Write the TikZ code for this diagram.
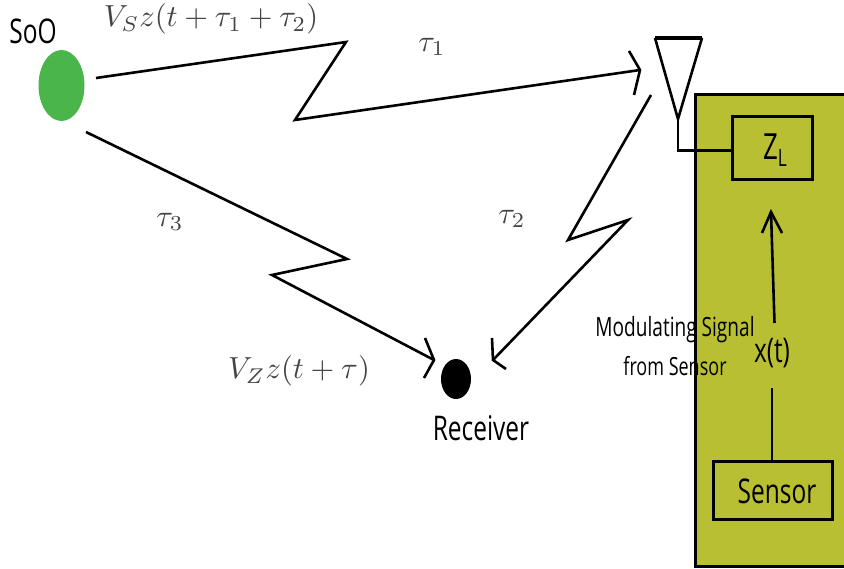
\documentclass[tikz,border=0pt]{standalone}
\usepackage{fontspec}
\usetikzlibrary{shapes.geometric}
\setmainfont{Open Sans}[FakeStretch=0.72]
\definecolor{soo}{HTML}{4AB54A}
\definecolor{olive}{HTML}{B9BF33}
\definecolor{mathgrey}{HTML}{444444}
\tikzset{
  x=1pt,y=-1pt,
  wire/.style={draw=black,line width=2.6pt,line join=miter},
  boxed/.style={draw=black,line width=3pt,fill=olive},
  lbl/.style={inner sep=0pt,text=black,font=\fontsize{34}{38}\selectfont,align=center},
  small/.style={inner sep=0pt,text=black,font=\fontsize{26.5}{30}\selectfont,align=center},
  mathlbl/.style={inner sep=0pt,text=mathgrey,scale=3.05},
}
\begin{document}
\begin{tikzpicture}
\useasboundingbox (0,0) rectangle (844,569);
% panel
\fill[olive] (695,95) rectangle (844,566);
\draw[black,line width=3pt] (844,95) -- (695,95) -- (695,566) -- (844,566);
% sources
\node[ellipse,fill=soo,minimum width=46pt,minimum height=71pt,inner sep=0pt] at (61.5,85.5) (soo) {};
\node[ellipse,fill=black,minimum width=30pt,minimum height=40pt,inner sep=0pt] at (456,379) (rx) {};
% boxes
\node[boxed,minimum width=80pt,minimum height=63pt,inner sep=0pt] at (772,148.5) (zl) {};
\node[boxed,minimum width=119pt,minimum height=58pt,inner sep=0pt] at (772.5,490) (sensor) {};
\node[lbl,font=\fontsize{36}{38}\selectfont] at (775,150) {Z\raisebox{-7pt}{\fontsize{24}{26}\selectfont L}};
\node[lbl] at (777,491) {Sensor};
% coordinates
\coordinate (a1) at (96,78);
\coordinate (a2) at (346,42);
\coordinate (a3) at (295,120);
\coordinate (a4) at (640,70);
\coordinate (a5) at (629,51);
\coordinate (a6) at (634,95);
\coordinate (b1) at (651,95);
\coordinate (b2) at (568,240);
\coordinate (b3) at (628,220);
\coordinate (b4) at (493,360);
\coordinate (b5) at (492,338);
\coordinate (b6) at (506,369);
\coordinate (c1) at (86,132);
\coordinate (c2) at (347,259);
\coordinate (c3) at (272,275);
\coordinate (c4) at (434,360);
\coordinate (c5) at (425,338);
\coordinate (c6) at (424,378);
\coordinate (t1) at (655,38);
\coordinate (t2) at (702,38);
\coordinate (t3) at (678,119);
\coordinate (t4) at (678,150.5);
\coordinate (d1) at (774.5,323);
\coordinate (d2) at (771,212);
\coordinate (d3) at (762,233);
\coordinate (d4) at (782,233);
\coordinate (e1) at (772,388);
% links
\draw[wire] (a1) -- (a2) -- (a3) -- (a4);
\draw[wire] (a5) -- (a4) -- (a6);
\draw[wire] (b1) -- (b2) -- (b3) -- (b4);
\draw[wire] (b5) -- (b4) -- (b6);
\draw[wire] (c1) -- (c2) -- (c3) -- (c4);
\draw[wire] (c5) -- (c4) -- (c6);
% antenna
\draw[wire] (t1) -- (t3) -- (t2);
\draw[black,line width=3.2pt] (t1) -- (t2);
\draw[wire] (t3) -- (t4) -- (zl.west |- t4);
% sensor line
\draw[wire] (d1) -- (d2);
\draw[wire] (d3) -- (d2) -- (d4);
\draw[wire] (e1) -- (e1 |- sensor.north);
% texts
\node[lbl] at (33,31) {SoO};
\node[lbl] at (481,428) {Receiver};
\node[lbl] at (772,353) {x(t)};
\node[small] at (675,330) {Modulating Signal};
\node[small,font=\fontsize{25}{30}\selectfont] at (675,366) {from Sensor};
\node[mathlbl] at (211,19) {$V_S z(t+\tau_1+\tau_2)$};
\node[mathlbl] at (432,47) {$\tau_1$};
\node[mathlbl] at (512,219) {$\tau_2$};
\node[mathlbl] at (170,222) {$\tau_3$};
\node[mathlbl] at (299,371) {$V_Z z(t+\tau)$};
\end{tikzpicture}
\end{document}
